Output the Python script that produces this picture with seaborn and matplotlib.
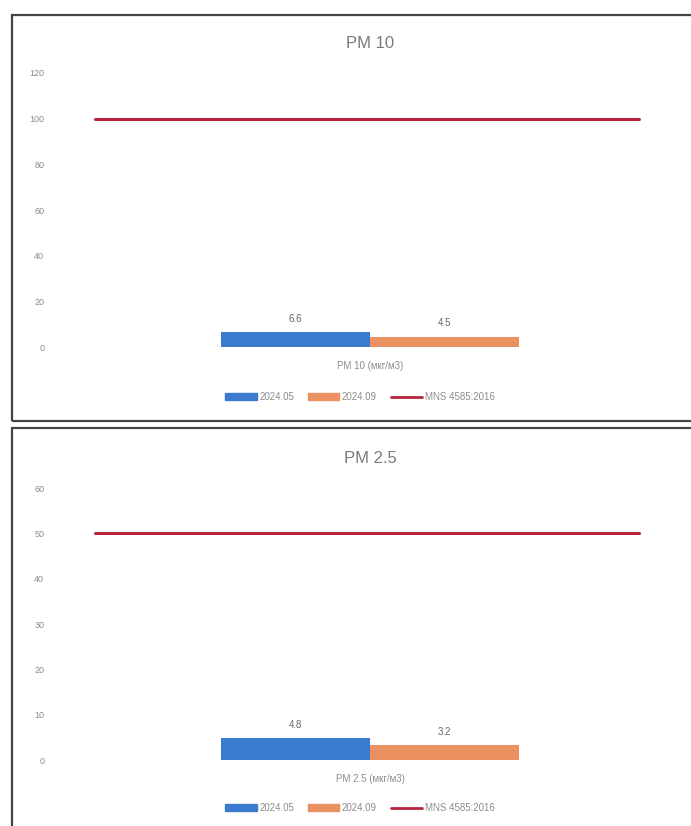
import pandas as pd
import numpy as np
import seaborn as sns
import matplotlib.pyplot as plt
from matplotlib.patches import Rectangle
from matplotlib.lines import Line2D

# data
periods = ['2024.05', '2024.09']
colors = ['#3b7bcf', '#eb9060']
limit_label = 'MNS 4585:2016'

titles = ['PM 10', 'PM 2.5']
categories = ['PM 10 (мкг/м3)', 'PM 2.5 (мкг/м3)']
pm10_values = [6.6, 4.5]
pm25_values = [4.8, 3.2]
limits = [100, 50]
yticks = [[0, 20, 40, 60, 80, 100, 120], [0, 10, 20, 30, 40, 50, 60]]

sns.set_theme(style='white')
plt.rcParams['font.family'] = ['Liberation Sans', 'DejaVu Sans']
grey = '#8c8c8c'

fig = plt.figure(figsize=(6.91, 8.26), dpi=100)

# panel frames like the scanned pages
for y0, y1 in [(1 - 421 / 826, 1 - 15 / 826), (-0.02, 1 - 428 / 826)]:
    fig.patches.append(Rectangle((12 / 691, y0), 1.0, y1 - y0, transform=fig.transFigure,
                                 fill=False, edgecolor='#444444', linewidth=1.6))

axes_pos = [[72 / 691, 1 - 347 / 826, 596 / 691, 274 / 826],
            [72 / 691, 1 - 760 / 826, 596 / 691, 272 / 826]]
legend_y = [1 - 397 / 826, 1 - 808 / 826]

for i, vals in enumerate([pm10_values, pm25_values]):
    ax = fig.add_axes(axes_pos[i])
    df = pd.DataFrame({'category': [categories[i]] * 2, 'period': periods, 'value': vals})
    sns.barplot(data=df, x='category', y='value', hue='period', palette=colors,
                width=0.5, gap=0, saturation=1, linewidth=0, ax=ax, legend=False)
    for c in ax.containers:
        ax.bar_label(c, fmt='%.1f', padding=6, fontsize=7, color='#666666')
    ax.axhline(limits[i], xmin=0.039, xmax=0.951, color='#b8243e', linewidth=2.2)

    ax.set_xlim(-0.5, 0.5)
    ax.set_ylim(yticks[i][0], yticks[i][-1])
    ax.set_yticks(yticks[i])
    ax.tick_params(axis='y', labelsize=6.5, labelcolor=grey, pad=20, length=0)
    ax.tick_params(axis='x', labelsize=7, labelcolor=grey, pad=10, length=0)
    ax.set_xlabel('')
    ax.set_ylabel('')
    sns.despine(ax=ax, left=True, bottom=True)
    ax.set_title(titles[i], fontsize=12, color='#7a7a7a', pad=18)

    handles = [Rectangle((0, 0), 1, 1, color=colors[0]),
               Rectangle((0, 0), 1, 1, color=colors[1]),
               Line2D([], [], color='#b8243e', linewidth=2)]
    fig.legend(handles, periods + [limit_label], loc='center', ncol=3,
               bbox_to_anchor=(360 / 691, legend_y[i]), frameon=False,
               fontsize=7, labelcolor=grey, handlelength=3.2, handleheight=0.6,
               handletextpad=0.3, columnspacing=1.4)

plt.savefig('out.png', dpi=100)
